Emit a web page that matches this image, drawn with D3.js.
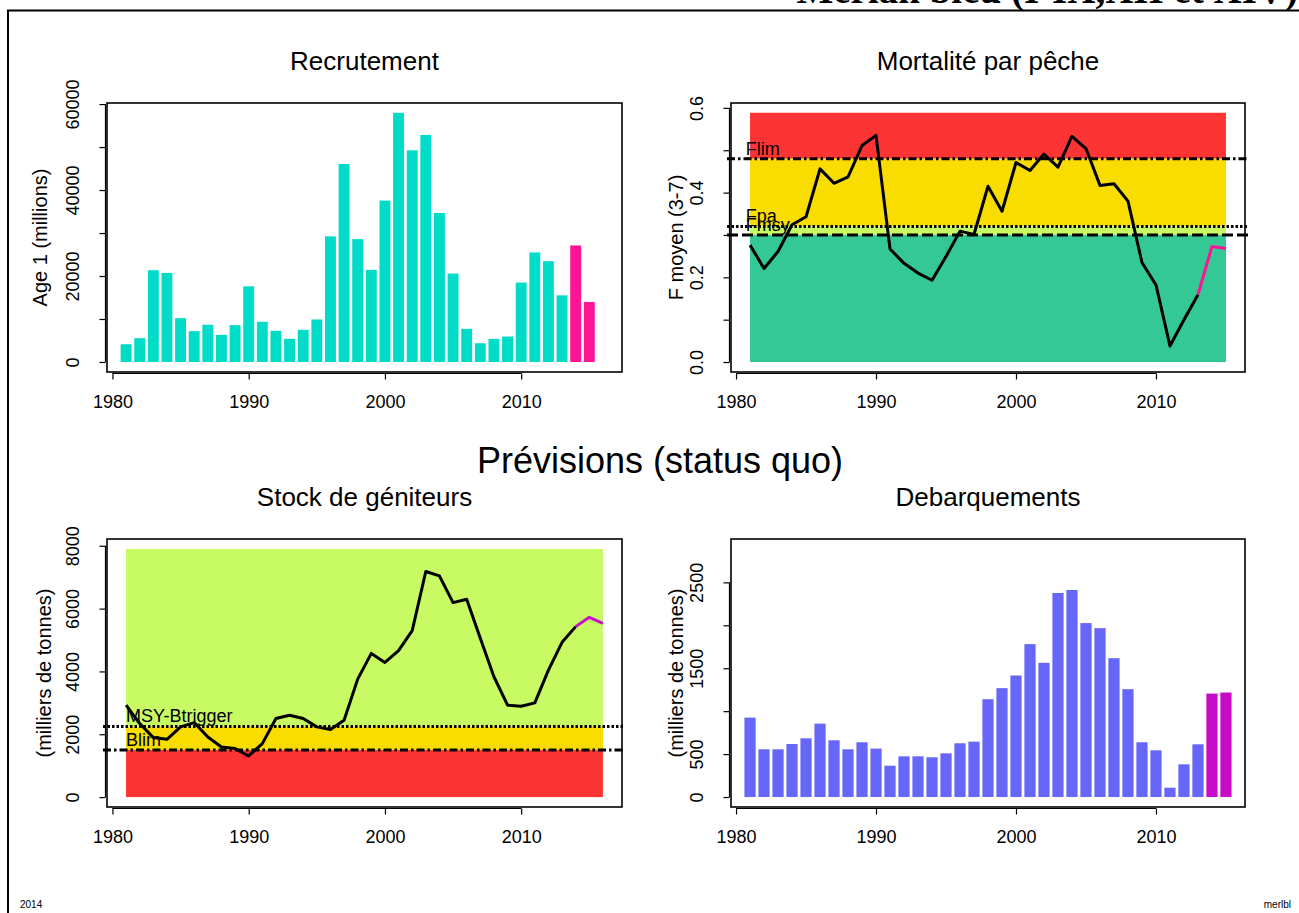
<!DOCTYPE html>
<html><head><meta charset="utf-8">
<script src="https://cdn.jsdelivr.net/npm/d3@7"></script>
<style>
body{margin:0;background:#fff}
text{font-family:"Liberation Sans",Arial,Helvetica,sans-serif;fill:#000}
</style>
</head><body>
<svg id="c" width="1299" height="913"></svg>
<script>
// ---------------- DATA ----------------
const years = [1981,1982,1983,1984,1985,1986,1987,1988,1989,1990,1991,1992,1993,1994,1995,1996,1997,1998,1999,2000,2001,2002,2003,2004,2005,2006,2007,2008,2009,2010,2011,2012,2013,2014,2015];
const ssbYears = [1981,1982,1983,1984,1985,1986,1987,1988,1989,1990,1991,1992,1993,1994,1995,1996,1997,1998,1999,2000,2001,2002,2003,2004,2005,2006,2007,2008,2009,2010,2011,2012,2013,2014,2015,2016];
const forecastStart = 2014;      // first forecast year (bars)
const fForecastFrom = 2013;      // F line turns pink from this year
const ssbForecastFrom = 2014;    // SSB line turns magenta from this year

const recruitment = [4130,5530,21350,20720,10200,7170,8650,6310,8570,17600,9350,7250,5380,7480,9890,29220,46050,28590,21430,37550,57970,49240,52820,34670,20570,7710,4360,5380,5920,18470,25480,23450,15500,27110,13950];
const fbar = [0.276,0.221,0.261,0.324,0.343,0.456,0.422,0.437,0.511,0.535,0.267,0.233,0.210,0.193,0.249,0.309,0.301,0.415,0.356,0.471,0.452,0.491,0.460,0.533,0.504,0.417,0.421,0.380,0.235,0.182,0.038,0.100,0.159,0.273,0.268];
const ssb = [2926,2340,1894,1840,2234,2372,1915,1596,1543,1309,1702,2500,2606,2500,2234,2149,2447,3755,4574,4287,4660,5298,7181,7043,6191,6298,5053,3830,2926,2894,3000,4043,4926,5426,5723,5532];
const landings = [925,556,556,618,684,855,661,556,638,564,365,474,474,463,509,626,645,1139,1268,1415,1781,1563,2376,2411,2026,1967,1617,1256,638,544,109,381,614,1205,1217];

const fRefNames = ["Flim","Fpa","Fmsy"];
const fRefValues = [0.48,0.32,0.30];
const bRefNames = ["MSY-Btrigger","Blim"];
const bRefValues = [2250,1500];

const xTicks = [1980,1990,2000,2010];
const recTicks = [0,10000,20000,30000,40000,50000,60000];
const recLabels = [0,20000,40000,60000];
const fTicks = [0,0.1,0.2,0.3,0.4,0.5,0.6];
const fLabels = [0,0.2,0.4,0.6];
const ssbTicks = [0,2000,4000,6000,8000];
const ssbLabels = [0,2000,4000,6000,8000];
const landTicks = [0,500,1000,1500,2000,2500];
const landLabels = [0,500,1500,2500];

// ---------------- DRAW ----------------
const svg = d3.select("#c");
const FS = 18;

// outer frame
svg.append("line").attr("x1",7).attr("x2",1299).attr("y1",10.5).attr("y2",10.5).attr("stroke","#000").attr("stroke-width",2);
svg.append("line").attr("x1",8).attr("x2",8).attr("y1",10).attr("y2",913).attr("stroke","#000").attr("stroke-width",2);
svg.append("text").attr("x",1298).attr("y",3).attr("text-anchor","end")
  .style("font-family","'Liberation Serif','Times New Roman',serif").style("font-weight","bold").style("font-size","39px")
  .text("Merlan bleu    (I-IX,XII et XIV)");

svg.append("text").attr("x",20).attr("y",908).style("font-size","10px").text("2014");
svg.append("text").attr("x",1291).attr("y",908).attr("text-anchor","end").style("font-size","10px").text("merlbl");

svg.append("text").attr("x",660).attr("y",473).attr("text-anchor","middle").style("font-size","36px").text("Prévisions (status quo)");

function makePanel(o){
  const x = d3.scaleLinear().domain(o.xdom).range([o.left,o.right]);
  const y = d3.scaleLinear().domain(o.ydom).range([o.bottom,o.top]);
  const g = svg.append("g");
  o.draw(g,x,y);
  // box
  g.append("rect").attr("x",o.left).attr("y",o.top).attr("width",o.right-o.left).attr("height",o.bottom-o.top)
    .attr("fill","none").attr("stroke","#000").attr("stroke-width",1.6);
  // x axis
  const ax = g.append("g").attr("transform",`translate(0,${o.bottom+1.5})`)
    .call(d3.axisBottom(x).tickValues(xTicks).tickSize(6).tickPadding(16).tickFormat(d3.format("d")));
  ax.select(".domain").remove();
  ax.append("line").attr("x1",x(xTicks[0])).attr("x2",x(xTicks[xTicks.length-1])).attr("stroke","#000").attr("stroke-width",1);
  ax.selectAll("line").attr("stroke-width",1.2);
  ax.selectAll("text").style("font-size",FS+"px").style("font-family","'Liberation Sans',Arial,sans-serif").attr("fill","#000");
  // y axis
  const ay = g.append("g").attr("transform",`translate(${o.left-1.5},0)`)
    .call(d3.axisLeft(y).tickValues(o.yTicks).tickSize(6).tickFormat(d => o.yLabels.includes(d) ? o.yFmt(d) : ""));
  ay.select(".domain").remove();
  ay.append("line").attr("y1",y(o.yTicks[0])).attr("y2",y(o.yTicks[o.yTicks.length-1])).attr("stroke","#000").attr("stroke-width",1.2);
  ay.selectAll("line").attr("stroke-width",1.2);
  ay.selectAll("text").attr("transform","rotate(-90)").attr("x",0).attr("y",-27).attr("dy",0)
    .style("text-anchor","middle").style("font-size",FS+"px").style("font-family","'Liberation Sans',Arial,sans-serif").attr("fill","#000");
  // titles
  svg.append("text").attr("x",(o.left+o.right)/2).attr("y",o.top-33).attr("text-anchor","middle").style("font-size","26px").text(o.title);
  svg.append("text").attr("transform",`translate(${o.ylabX},${(o.top+o.bottom)/2}) rotate(-90)`).attr("text-anchor","middle")
    .style("font-size","20px").text(o.ylab);
}

function refLine(g,x,y,xdom,v,dash){
  g.append("line").attr("x1",x(xdom[0])-4).attr("x2",x(xdom[1])+3).attr("y1",y(v)).attr("y2",y(v))
   .attr("stroke","#000").attr("stroke-width",3).attr("stroke-dasharray",dash);
}

const dashDot = "8,3,2.5,3", dotted = "2.5,2", longDash = "11,4";

// Panel 1 : Recrutement
makePanel({left:107,right:622,top:103,bottom:372,xdom:[1979.6,2017.4],ydom:[-2330,60250],
  yTicks:recTicks,yLabels:recLabels,yFmt:d3.format("d"),title:"Recrutement",ylab:"Age 1 (millions)",ylabX:47,
  draw:(g,x,y)=>{
    g.selectAll("rect.bar").data(years).join("rect").attr("class","bar")
      .attr("x",d=>x(d-0.4)).attr("width",d=>x(d+0.4)-x(d-0.4))
      .attr("y",(d,i)=>y(recruitment[i])).attr("height",(d,i)=>y(0)-y(recruitment[i]))
      .attr("fill",d=>d>=forecastStart?"#ff1493":"#00dcc8");
  }});

// Panel 2 : Mortalité par pêche
makePanel({left:731,right:1245,top:103,bottom:372,xdom:[1979.64,2016.36],ydom:[-0.0235,0.6115],
  yTicks:fTicks,yLabels:fLabels,yFmt:d3.format(".1f"),title:"Mortalité par pêche",ylab:"F moyen (3-7)",ylabX:683,
  draw:(g,x,y)=>{
    const x0 = years[0], x1 = years[years.length-1];
    const top = d3.max(fbar)*1.1;
    const bands = [[fRefValues[0],top,"#fc3434"],[fRefValues[1],fRefValues[0],"#f9dc00"],[fRefValues[2],fRefValues[1],"#c8fa64"],[0,fRefValues[2],"#33c896"]];
    g.selectAll("rect.band").data(bands).join("rect").attr("class","band")
      .attr("x",x(x0)).attr("width",x(x1)-x(x0)).attr("y",d=>y(d[1])).attr("height",d=>y(d[0])-y(d[1])).attr("fill",d=>d[2]);
    const xd = [1979.64,2016.36];
    refLine(g,x,y,xd,fRefValues[0],dashDot);
    refLine(g,x,y,xd,fRefValues[1],dotted);
    refLine(g,x,y,xd,fRefValues[2],longDash);
    fRefNames.forEach((n,i)=>g.append("text").attr("x",x(1980.7)).attr("y",y(fRefValues[i])-4).style("font-size",FS+"px").text(n));
    const line = d3.line().x(d=>x(d[0])).y(d=>y(d[1]));
    const pts = years.map((yr,i)=>[yr,fbar[i]]);
    g.append("path").attr("d",line(pts.filter(p=>p[0]<=fForecastFrom))).attr("fill","none").attr("stroke","#000").attr("stroke-width",3).attr("stroke-linejoin","round");
    g.append("path").attr("d",line(pts.filter(p=>p[0]>=fForecastFrom))).attr("fill","none").attr("stroke","#ff1493").attr("stroke-width",3).attr("stroke-linejoin","round");
  }});

// Panel 3 : Stock de géniteurs
makePanel({left:107,right:622,top:539,bottom:807,xdom:[1979.6,2017.4],ydom:[-316,8216],
  yTicks:ssbTicks,yLabels:ssbLabels,yFmt:d3.format("d"),title:"Stock de géniteurs",ylab:"(milliers de tonnes)",ylabX:51,
  draw:(g,x,y)=>{
    const x0 = ssbYears[0], x1 = ssbYears[ssbYears.length-1];
    const top = d3.max(ssb)*1.1;
    const bands = [[bRefValues[0],top,"#c8fa64"],[bRefValues[1],bRefValues[0],"#f9dc00"],[0,bRefValues[1],"#fc3434"]];
    g.selectAll("rect.band").data(bands).join("rect").attr("class","band")
      .attr("x",x(x0)).attr("width",x(x1)-x(x0)).attr("y",d=>y(d[1])).attr("height",d=>y(d[0])-y(d[1])).attr("fill",d=>d[2]);
    const xd = [1979.6,2017.4];
    refLine(g,x,y,xd,bRefValues[0],dotted);
    refLine(g,x,y,xd,bRefValues[1],dashDot);
    bRefNames.forEach((n,i)=>g.append("text").attr("x",x(1981)).attr("y",y(bRefValues[i])-4).style("font-size",FS+"px").text(n));
    const line = d3.line().x(d=>x(d[0])).y(d=>y(d[1]));
    const pts = ssbYears.map((yr,i)=>[yr,ssb[i]]);
    g.append("path").attr("d",line(pts.filter(p=>p[0]<=ssbForecastFrom))).attr("fill","none").attr("stroke","#000").attr("stroke-width",3).attr("stroke-linejoin","round");
    g.append("path").attr("d",line(pts.filter(p=>p[0]>=ssbForecastFrom))).attr("fill","none").attr("stroke","#c810c8").attr("stroke-width",3).attr("stroke-linejoin","round");
  }});

// Panel 4 : Debarquements
makePanel({left:731,right:1245,top:539,bottom:807,xdom:[1979.64,2016.36],ydom:[-116,3005],
  yTicks:landTicks,yLabels:landLabels,yFmt:d3.format("d"),title:"Debarquements",ylab:"(milliers de tonnes)",ylabX:683,
  draw:(g,x,y)=>{
    g.selectAll("rect.bar").data(years).join("rect").attr("class","bar")
      .attr("x",d=>x(d-0.4)).attr("width",d=>x(d+0.4)-x(d-0.4))
      .attr("y",(d,i)=>y(landings[i])).attr("height",(d,i)=>y(0)-y(landings[i]))
      .attr("fill",d=>d>=forecastStart?"#c80ac8":"#6666f8");
  }});
</script>
</body></html>
